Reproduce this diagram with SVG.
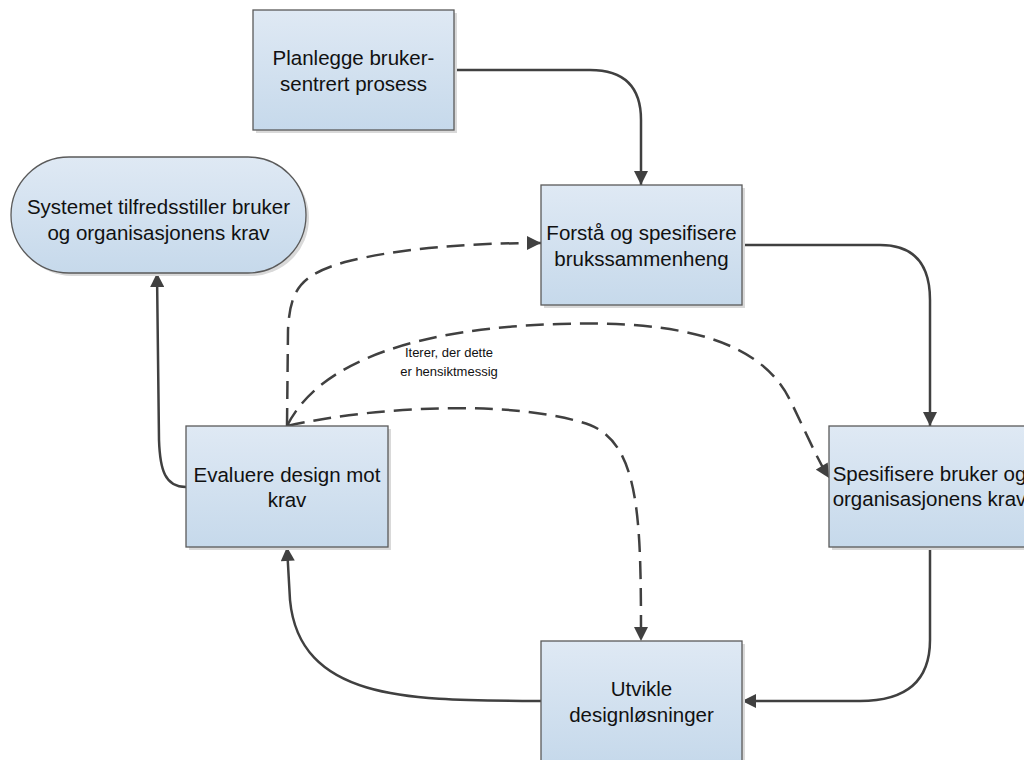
<svg xmlns="http://www.w3.org/2000/svg" width="1024" height="760" viewBox="0 0 1024 760">
<defs>
<linearGradient id="g" x1="0" y1="0" x2="0" y2="1">
<stop offset="0" stop-color="#dfe9f4"/>
<stop offset="1" stop-color="#c6d9eb"/>
</linearGradient>
<marker id="a" viewBox="0 0 10 10" refX="10" refY="5" markerWidth="15" markerHeight="14" markerUnits="userSpaceOnUse" orient="auto">
<path d="M0,0 L10,5 L0,10 z" fill="#404040"/>
</marker>
</defs>
<style>
.box{fill:url(#g);stroke:#5a5a5a;stroke-width:1.3}
.sh{fill:#d9d9d9}
.t{font-family:"Liberation Sans",Arial,sans-serif;font-size:20.5px;fill:#111;text-anchor:middle}
.s{font-family:"Liberation Sans",Arial,sans-serif;font-size:13px;fill:#111;text-anchor:middle}
.c{fill:none;stroke:#404040;stroke-width:2.5;marker-end:url(#a)}
.d{fill:none;stroke:#404040;stroke-width:2.5;stroke-dasharray:18 9}
.dm{marker-end:url(#a)}
</style>
<rect width="1024" height="760" fill="#ffffff"/>
<g id="connectors">
<path class="c" d="M454,70 L590,70 Q641,70 641,120 L641,185"/>
<path class="c" d="M742,245 L880,245 Q930,245 930,300 L930,426"/>
<path class="c" d="M930,547 L930,640 Q930,701 860,701 L742,701"/>
<path class="c" d="M541,701 C420,700 300,705 290,600 L287,547"/>
<path class="c" d="M186,487 C165,487 160,470 159,440 L157,273"/>
<path class="d dm" d="M287,426 L288,330 C290,290 300,275 345,262 C400,248 470,243 541,243"/>
<path class="d dm" d="M287,426 C320,360 420,328 560,324 C680,320 760,340 790,400 C805,430 815,455 829,478"/>
<path class="d dm" d="M287,426 C380,405 520,400 590,425 C640,445 641,520 641,641"/>
<text class="s" x="449" y="357">Iterer, der dette</text>
<text class="s" x="449" y="376">er hensiktmessig</text>
</g>
<g id="n1">
<rect class="sh" x="256" y="13" width="201" height="120"/>
<rect class="box" x="253" y="10" width="201" height="120"/>
<text class="t" x="353.5" y="65">Planlegge bruker-</text>
<text class="t" x="353.5" y="91">sentrert prosess</text>
</g>
<g id="n2">
<rect class="sh" x="544" y="188" width="201" height="120"/>
<rect class="box" x="541" y="185" width="201" height="120"/>
<text class="t" x="641.5" y="240">Forstå og spesifisere</text>
<text class="t" x="641.5" y="266">brukssammenheng</text>
</g>
<g id="n3">
<rect class="sh" x="832" y="429" width="201" height="121"/>
<rect class="box" x="829" y="426" width="201" height="121"/>
<text class="t" x="929.5" y="481">Spesifisere bruker og</text>
<text class="t" x="929.5" y="506">organisasjonens krav</text>
</g>
<g id="n4">
<rect class="sh" x="544" y="644" width="201" height="120"/>
<rect class="box" x="541" y="641" width="201" height="120"/>
<text class="t" x="641.5" y="696">Utvikle</text>
<text class="t" x="641.5" y="722">designløsninger</text>
</g>
<g id="n5">
<rect class="sh" x="189" y="429" width="202" height="121"/>
<rect class="box" x="186" y="426" width="202" height="121"/>
<text class="t" x="287" y="482">Evaluere design mot</text>
<text class="t" x="287" y="507">krav</text>
</g>
<g id="n6">
<rect class="sh" x="14" y="160" width="295" height="116" rx="58" ry="58"/>
<rect class="box" x="11" y="157" width="295" height="116" rx="58" ry="58"/>
<text class="t" x="158.5" y="214">Systemet tilfredsstiller bruker</text>
<text class="t" x="158.5" y="240">og organisasjonens krav</text>
</g>
</svg>
